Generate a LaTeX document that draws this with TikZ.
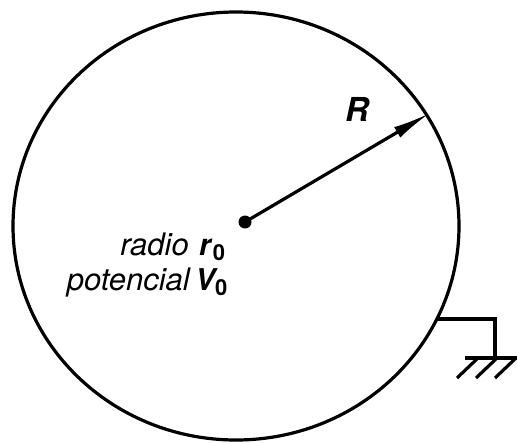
\documentclass[tikz,border=0pt]{standalone}
\usepackage{fontspec}
\setmainfont{TeX Gyre Heros}
\usetikzlibrary{arrows.meta}
\newcommand{\subz}{\raisebox{-5pt}{\fontsize{22}{24}\selectfont\bfseries\upshape 0}}
\begin{document}
\begin{tikzpicture}[x=1pt,y=-1pt,
  wire/.style={line width=3.2pt},
  lbl/.style={inner sep=0pt,font=\fontsize{31}{31}\selectfont\itshape},
  sym/.style={inner sep=0pt,font=\fontsize{30}{30}\selectfont\bfseries\itshape}]
\useasboundingbox (0,0) rectangle (517,442);
% sphere
\draw[wire] (236,226) ellipse [x radius=223, y radius=214];
% centre
\fill (245,222) circle (6.5);
\coordinate (c) at (245,222);
\coordinate (edge) at (430,113);
\draw[wire,-{Latex[length=38pt,width=12pt]}] (c) -- (edge);
\node[sym,font=\fontsize{33}{33}\selectfont\bfseries\itshape] (R) at (357,109) {R};
% labels
\node[lbl,anchor=base east] (radio) at (189,255) {radio};
\node[sym,anchor=base west] (r0) at (199,255) {r\hspace{2pt}\subz};
\node[lbl,anchor=base east] (pot) at (190,290) {potencial};
\node[sym,anchor=base west] (V0) at (195,290) {V\subz};
% ground
\coordinate (g0) at (438,319);
\coordinate (g1) at (495,319);
\coordinate (g2) at (495,358);
\coordinate (gl) at (465,358);
\coordinate (gr) at (517,358);
\draw[wire] (g0) -- (g1) -- (g2);
\draw[wire] (gl) -- (gr);
\foreach \x in {478,497,516} \draw[wire] (\x,358) -- ++(-21,20);
\end{tikzpicture}
\end{document}
